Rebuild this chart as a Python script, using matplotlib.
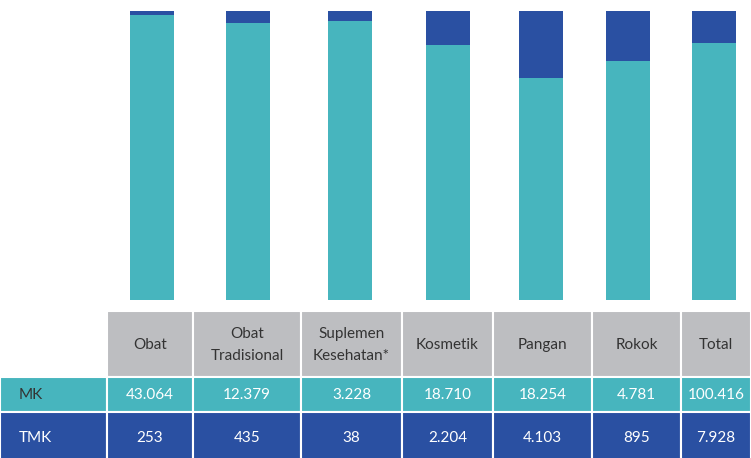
import matplotlib.pyplot as plt
from matplotlib.patches import Rectangle

# ---------- Data ----------
categories = ['Obat', 'Obat\nTradisional', 'Suplemen\nKesehatan*', 'Kosmetik',
              'Pangan', 'Rokok', 'Total']
mk_values = ['43.064', '12.379', '3.228', '18.710', '18.254', '4.781', '100.416']
tmk_values = ['253', '435', '38', '2.204', '4.103', '895', '7.928']
# share of each bar (in %) as drawn in the picture
tmk_share = [1.4, 4.2, 3.5, 11.8, 23.2, 17.4, 11.1]
mk_share = [100 - v for v in tmk_share]
row_labels = ['MK', 'TMK']

TEAL = '#47B5BE'
BLUE = '#2A50A2'
GRAY = '#BDBEC1'
W, H = 751, 458

plt.rcParams['font.family'] = ['Lato', 'DejaVu Sans']

fig = plt.figure(figsize=(W / 100, H / 100), dpi=100)

# column layout in pixels
edges = [0, 107, 193, 301, 402, 493, 592, 681, 751]
centers = [(edges[i + 1] + edges[i + 2]) / 2 for i in range(len(categories))]
bar_x = [152, 248, 350, 448, 541, 628, 714]

# ---------- Bars ----------
bar_top, bar_bot = 11, 300
ax = fig.add_axes([0, (H - bar_bot) / H, 1, (bar_bot - bar_top) / H])
ax.bar(bar_x, mk_share, width=44, color=TEAL)
ax.bar(bar_x, tmk_share, bottom=mk_share, width=44, color=BLUE)
ax.set_xlim(0, W)
ax.set_ylim(0, 100)
ax.axis('off')

# ---------- Table ----------
tab_top = 311
tx = fig.add_axes([0, 0, 1, (H - tab_top) / H])
tx.set_xlim(0, W)
tx.set_ylim(H, tab_top)
tx.axis('off')

rows = [(311, 377, GRAY), (377, 412, TEAL), (412, 470, BLUE)]

for r, (y0, y1, col) in enumerate(rows):
    for c in range(len(edges) - 1):
        if r == 0 and c == 0:
            continue
        tx.add_patch(Rectangle((edges[c], y0), edges[c + 1] - edges[c], y1 - y0,
                               facecolor=col, edgecolor='white', lw=1.5))

# header
for i, cat in enumerate(categories):
    tx.text(centers[i], 345, cat, ha='center', va='center', fontsize=11,
            color='#333333', linespacing=1.75)

# rows
row_y = [395, 438]
for r, vals in enumerate([mk_values, tmk_values]):
    txt_col = '#333333' if r == 0 else 'white'
    tx.text(19, row_y[r], row_labels[r], ha='left', va='center', fontsize=11,
            color=txt_col)
    for i, v in enumerate(vals):
        tx.text(centers[i], row_y[r], v, ha='center', va='center', fontsize=11,
                color='white')

plt.savefig('out.png', dpi=100)
